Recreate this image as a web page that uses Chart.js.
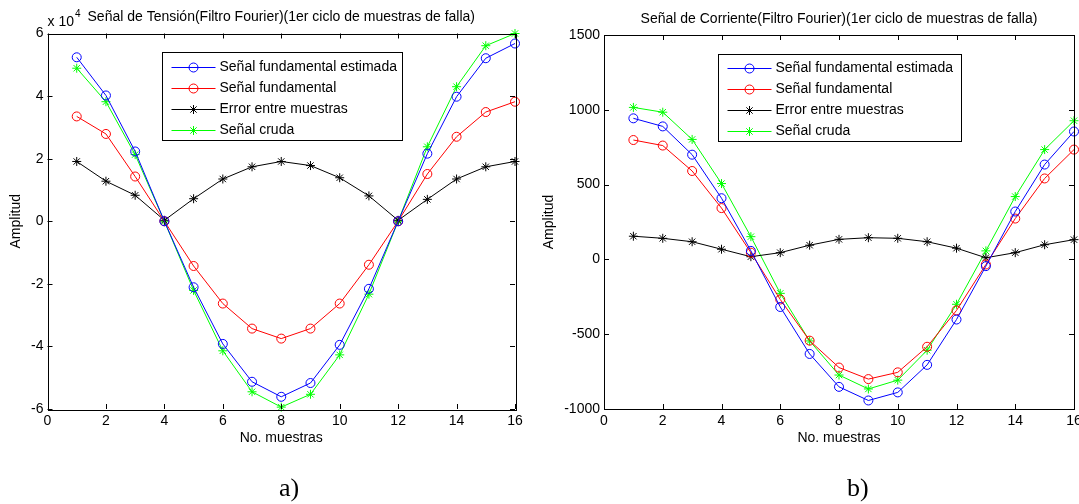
<!DOCTYPE html>
<html>
<head>
<meta charset="utf-8">
<title>Filtro Fourier</title>
<script src="https://cdn.jsdelivr.net/npm/chart.js@4.4.1/dist/chart.umd.min.js"></script>
<style>
    html, body { margin: 0; padding: 0; background: #fff; overflow: hidden; }
    #page { position: relative; width: 1079px; height: 504px; overflow: hidden; }
    canvas { position: absolute; top: 0; }
    #tensionChart { left: 0; }
    #corrienteChart { left: 540px; }
    .caption { position: absolute; top: 475px; font: 26px "Liberation Serif", "Times New Roman", serif; line-height: 26px; color: #000; }
</style>
</head>
<body>
<div id="page">
    <canvas id="tensionChart" width="560" height="504"></canvas>
    <canvas id="corrienteChart" width="598" height="504"></canvas>
    <div class="caption" style="left:279px">a)</div>
    <div class="caption" style="left:847px">b)</div>
</div>
<script>
'use strict';

// Numero de muestra (eje x)
const samples = [1, 2, 3, 4, 5, 6, 7, 8, 9, 10, 11, 12, 13, 14, 15, 16];

const seriesLabels = ['Señal fundamental estimada', 'Señal fundamental', 'Error entre muestras', 'Señal cruda'];

// a) Señal de tension
const tensionEstimada = [52400, 40200, 22300, 0, -21100, -39200, -51300, -56100, -51700, -39500, -21600, 0, 21600, 39800, 52100, 56800];
const tensionFundamental = [33500, 27900, 14300, 0, -14300, -26300, -34300, -37500, -34300, -26300, -13900, 0, 15100, 27000, 34900, 38200];
const tensionError = [19100, 12800, 8300, 300, 7200, 13500, 17400, 19100, 17800, 13900, 8100, 300, 7000, 13500, 17400, 19100];
const tensionCruda = [48900, 38200, 21300, 0, -22100, -41400, -54500, -59400, -55300, -42700, -23300, 0, 23800, 43000, 56100, 60000];

// b) Señal de corriente
const corrienteEstimada = [943, 889, 700, 409, 57, -318, -632, -852, -943, -889, -705, -402, -45, 320, 634, 855];
const corrienteFundamental = [798, 761, 591, 343, 45, -268, -543, -723, -800, -755, -584, -341, -34, 273, 541, 734];
const corrienteError = [155, 141, 118, 68, 18, 45, 95, 134, 145, 141, 118, 75, 11, 45, 98, 132];
const corrienteCruda = [1016, 984, 802, 507, 152, -227, -545, -773, -866, -807, -607, -300, 57, 420, 734, 927];

const FONT = '"Liberation Sans", Arial, Helvetica, sans-serif';

function drawMarker(ctx, style, x, y, r) {
    ctx.beginPath();
    if (style === 'circle') {
        ctx.arc(x, y, r, 0, Math.PI * 2);
    } else {
        const d = r * Math.SQRT1_2;
        ctx.moveTo(x - r, y); ctx.lineTo(x + r, y);
        ctx.moveTo(x, y - r); ctx.lineTo(x, y + r);
        ctx.moveTo(x - d, y - d); ctx.lineTo(x + d, y + d);
        ctx.moveTo(x - d, y + d); ctx.lineTo(x + d, y - d);
    }
    ctx.stroke();
}

// Caja y marcas hacia dentro (estilo MATLAB)
const boxFrame = {
    id: 'boxFrame',
    afterDatasetsDraw(chart) {
        const ctx = chart.ctx;
        const a = chart.chartArea;
        const xs = chart.scales.x;
        const ys = chart.scales.y;
        const len = 5;
        ctx.save();
        ctx.strokeStyle = '#000';
        ctx.lineWidth = 1;
        ctx.beginPath();
        xs.ticks.forEach(function(t) {
            const px = Math.round(xs.getPixelForValue(t.value)) + 0.5;
            ctx.moveTo(px, a.bottom); ctx.lineTo(px, a.bottom - len);
            ctx.moveTo(px, a.top); ctx.lineTo(px, a.top + len);
        });
        ys.ticks.forEach(function(t) {
            const py = Math.round(ys.getPixelForValue(t.value)) + 0.5;
            ctx.moveTo(a.left, py); ctx.lineTo(a.left + len, py);
            ctx.moveTo(a.right, py); ctx.lineTo(a.right - len, py);
        });
        ctx.stroke();
        ctx.strokeRect(Math.round(a.left) + 0.5, Math.round(a.top) + 0.5, Math.round(a.width), Math.round(a.height));
        ctx.restore();
    }
};

// Leyenda dentro del area del grafico, con marco
const boxLegend = {
    id: 'boxLegend',
    afterDraw(chart, args, opts) {
        const ctx = chart.ctx;
        const a = chart.chartArea;
        const x0 = Math.round(a.left + opts.left) + 0.5;
        const y0 = Math.round(a.top + opts.top) + 0.5;
        ctx.save();
        ctx.fillStyle = '#fff';
        ctx.fillRect(x0, y0, opts.width, opts.height);
        ctx.strokeStyle = '#000';
        ctx.lineWidth = 1;
        ctx.strokeRect(x0, y0, opts.width, opts.height);
        ctx.font = '14px ' + FONT;
        ctx.textBaseline = 'middle';
        chart.data.datasets.forEach(function(ds, i) {
            const cy = Math.round(y0 + opts.firstRow + i * opts.rowGap) + 0.5;
            ctx.strokeStyle = ds.borderColor;
            ctx.beginPath();
            ctx.moveTo(x0 + 9, cy);
            ctx.lineTo(x0 + 53, cy);
            ctx.stroke();
            drawMarker(ctx, ds.pointStyle, x0 + 31, cy, ds.pointRadius);
            ctx.fillStyle = '#000';
            ctx.fillText(ds.label, x0 + 57, cy);
        });

        // factor de escala del eje y
        if (opts.exponent) {
            ctx.fillStyle = '#000';
            ctx.textBaseline = 'alphabetic';
            ctx.font = '14px ' + FONT;
            const base = 'x 10';
            ctx.fillText(base, a.left, a.top - 7.5);
            const w = ctx.measureText(base).width;
            ctx.font = '10px ' + FONT;
            ctx.fillText(String(opts.exponent), a.left + w + 1, a.top - 16.5);
        }
        ctx.restore();
    }
};

function makeDataset(label, values, color, style) {
    return {
        label: label,
        data: samples.map(function(s, i) { return { x: s, y: values[i] }; }),
        borderColor: color,
        borderWidth: 1,
        pointStyle: style,
        pointRadius: 4.5,
        pointBorderColor: color,
        pointBackgroundColor: 'rgba(0,0,0,0)',
        pointBorderWidth: 1,
        tension: 0,
        clip: false
    };
}

function createChart(canvasId, opts) {
    const canvas = document.getElementById(canvasId);
    if (!canvas) {
        console.error('Canvas not found:', canvasId);
        return null;
    }
    const ctx = canvas.getContext('2d');
    return new Chart(ctx, {
        type: 'line',
        data: { datasets: opts.datasets },
        plugins: [boxFrame, boxLegend],
        options: {
            responsive: false,
            animation: false,
            events: [],
            layout: { padding: { left: 0, top: 0, right: opts.padRight, bottom: 0 } },
            scales: {
                x: {
                    type: 'linear',
                    min: 0,
                    max: 16,
                    grid: { display: false, drawTicks: false },
                    border: { display: false },
                    ticks: { stepSize: 2, padding: 4, color: '#000', font: { family: FONT, size: 14 } },
                    title: {
                        display: true,
                        text: 'No. muestras',
                        color: '#000',
                        font: { family: FONT, size: 14 },
                        padding: { top: 0, bottom: 57 }
                    },
                    afterFit: function(scale) { scale.height = 95; }
                },
                y: {
                    type: 'linear',
                    min: opts.yMin,
                    max: opts.yMax,
                    grid: { display: false, drawTicks: false },
                    border: { display: false },
                    ticks: {
                        stepSize: opts.yStep,
                        padding: 4,
                        color: '#000',
                        font: { family: FONT, size: 14 },
                        callback: function(v) { return v / opts.yDiv; }
                    },
                    title: {
                        display: true,
                        text: 'Amplitud',
                        color: '#000',
                        font: { family: FONT, size: 14 },
                        padding: { top: opts.yTitlePad, bottom: 0 }
                    },
                    afterFit: function(scale) { scale.width = opts.yWidth; }
                }
            },
            plugins: {
                legend: { display: false },
                tooltip: { enabled: false },
                title: {
                    display: true,
                    fullSize: false,
                    text: opts.title,
                    color: '#000',
                    font: { family: FONT, size: 14, weight: 'normal' },
                    padding: opts.titlePad
                },
                boxLegend: opts.legend
            }
        }
    });
}

createChart('tensionChart', {
    title: 'Señal de Tensión(Filtro Fourier)(1er ciclo de muestras de falla)',
    titlePad: { top: 9.1, bottom: 7.6 },
    datasets: [
        makeDataset(seriesLabels[0], tensionEstimada, '#0000ff', 'circle'),
        makeDataset(seriesLabels[1], tensionFundamental, '#ff0000', 'circle'),
        makeDataset(seriesLabels[2], tensionError, '#000000', 'star'),
        makeDataset(seriesLabels[3], tensionCruda, '#00ff00', 'star')
    ],
    yMin: -60000, yMax: 60000, yStep: 20000, yDiv: 10000,
    yWidth: 47.5, yTitlePad: 8, padRight: 45,
    legend: { left: 114.5, top: 18.5, width: 240, height: 88, firstRow: 14, rowGap: 21.3, exponent: 4 }
});

createChart('corrienteChart', {
    title: 'Señal de Corriente(Filtro Fourier)(1er ciclo de muestras de falla)',
    titlePad: { top: 10.6, bottom: 7.6 },
    datasets: [
        makeDataset(seriesLabels[0], corrienteEstimada, '#0000ff', 'circle'),
        makeDataset(seriesLabels[1], corrienteFundamental, '#ff0000', 'circle'),
        makeDataset(seriesLabels[2], corrienteError, '#000000', 'star'),
        makeDataset(seriesLabels[3], corrienteCruda, '#00ff00', 'star')
    ],
    yMin: -1000, yMax: 1500, yStep: 500, yDiv: 1,
    yWidth: 64, yTitlePad: 0.6, padRight: 64,
    legend: { left: 114, top: 19, width: 243, height: 87, firstRow: 13, rowGap: 21, exponent: 0 }
});
</script>
</body>
</html>
